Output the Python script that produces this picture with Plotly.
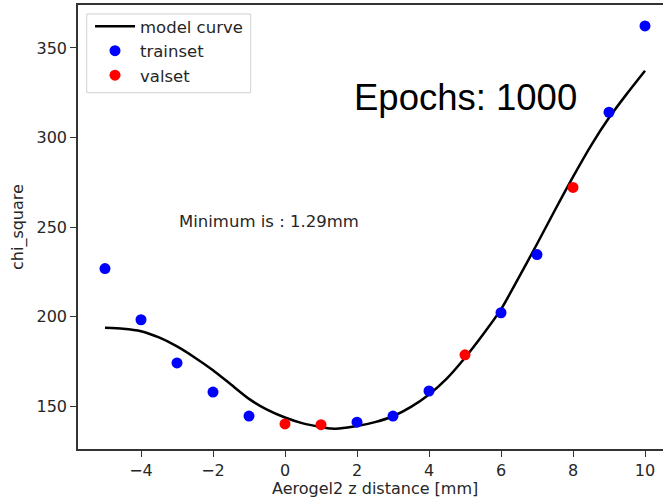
import plotly.graph_objects as go

# Model curve (fitted chi-square vs. aerogel z position)
curve_x = [-5, -4.5, -4, -3.5, -3, -2.5, -2, -1.5, -1, -0.5, 0, 0.5, 1, 1.29, 1.5,
           2, 2.5, 3, 3.5, 4, 4.5, 5, 5.5, 6, 6.5, 7, 7.5, 8, 8.5, 9, 9.5, 10]
curve_y = [193.7, 193.2, 191.8, 188.3, 183.3, 177.0, 170.0, 162.0, 154.0, 148.0,
           143.6, 140.3, 138.3, 137.4, 137.5, 138.8, 141.0, 144.3, 149.5, 156.5,
           165.5, 177.0, 190.0, 204.0, 222.0, 240.5, 259.5, 278.0, 295.5, 311.0,
           324.5, 337.3]

# Training points
train_x = [-5, -4, -3, -2, -1, 2, 3, 4, 6, 7, 9, 10]
train_y = [226.8, 198.2, 174.1, 157.8, 144.4, 141.0, 144.4, 158.4, 202.1, 234.6, 314.1, 362.3]

# Validation points
val_x = [0, 1, 5, 8]
val_y = [140.0, 139.6, 178.6, 272.1]

x_ticks = [-4, -2, 0, 2, 4, 6, 8, 10]
y_ticks = [150, 200, 250, 300, 350]

FONT = "DejaVu Sans"
TXT = "#262626"
AX = "#333333"

fig = go.Figure()
fig.add_trace(go.Scatter(
    x=curve_x, y=curve_y, mode="lines", name="model curve",
    line=dict(color="black", width=2.5, shape="spline", smoothing=0.6),
))
fig.add_trace(go.Scatter(
    x=train_x, y=train_y, mode="markers", name="trainset",
    marker=dict(color="#0000ff", size=11, line=dict(width=0)),
))
fig.add_trace(go.Scatter(
    x=val_x, y=val_y, mode="markers", name="valset",
    marker=dict(color="#ff0000", size=11, line=dict(width=0)),
))

fig.update_layout(
    width=663, height=500,
    margin=dict(l=78, r=0, t=5, b=51),
    paper_bgcolor="white", plot_bgcolor="white",
    font=dict(family=FONT, size=16, color=TXT),
    showlegend=True,
    legend=dict(
        x=(90 - 78) / 585, y=1 - (9 - 5) / 444, xanchor="left", yanchor="top",
        bgcolor="rgba(0,0,0,0)", borderwidth=0,
        font=dict(family=FONT, size=16.5, color=TXT),
        tracegroupgap=0, itemwidth=40,
    ),
    xaxis=dict(
        range=[-5.75, 10.5], tickvals=x_ticks,
        ticktext=[("\u2212" + str(-v)) if v < 0 else str(v) for v in x_ticks],
        showgrid=False, zeroline=False,
        showline=True, linecolor=AX, linewidth=1.5, mirror=True,
        ticks="outside", ticklen=6, tickwidth=1.3, tickcolor=AX,
        tickfont=dict(family=FONT, size=16, color=TXT),
    ),
    yaxis=dict(
        range=[126, 374], tickvals=y_ticks,
        showgrid=False, zeroline=False,
        showline=True, linecolor=AX, linewidth=1.5, mirror=False,
        ticks="outside", ticklen=6, tickwidth=1.3, tickcolor=AX,
        tickfont=dict(family=FONT, size=16, color=TXT),
    ),
)

# Legend frame
fig.add_shape(
    type="rect", xref="paper", yref="paper",
    x0=(86.7 - 78) / 585, x1=(250.7 - 78) / 585,
    y0=1 - (92.7 - 5) / 444, y1=1 - (14 - 5) / 444,
    line=dict(color="#d0d0d0", width=1), fillcolor="rgba(255,255,255,0.8)",
    layer="above",
)

annotations = [
    dict(text="Aerogel2 z distance [mm]", xref="paper", yref="paper",
         x=0.5077, y=0, yshift=-39, xanchor="center", yanchor="middle",
         showarrow=False, font=dict(family=FONT, size=16, color=TXT)),
    dict(text="chi_square", xref="paper", yref="paper",
         x=0, xshift=-60, y=0.5, xanchor="center", yanchor="middle",
         textangle=-90, showarrow=False,
         font=dict(family=FONT, size=16, color=TXT)),
    dict(text="Minimum is : 1.29mm", xref="x", yref="y",
         x=-3, y=253.2, xanchor="left", yanchor="middle",
         showarrow=False, font=dict(family=FONT, size=16.5, color=TXT)),
    dict(text="Epochs: 1000", xref="paper", yref="paper",
         x=(465.3 - 78) / 585, y=1 - (97.5 - 5) / 444,
         xanchor="center", yanchor="middle", showarrow=False,
         font=dict(family="Liberation Sans", size=36.5, color="black")),
]
fig.update_layout(annotations=annotations)

fig.write_html("out.html")
